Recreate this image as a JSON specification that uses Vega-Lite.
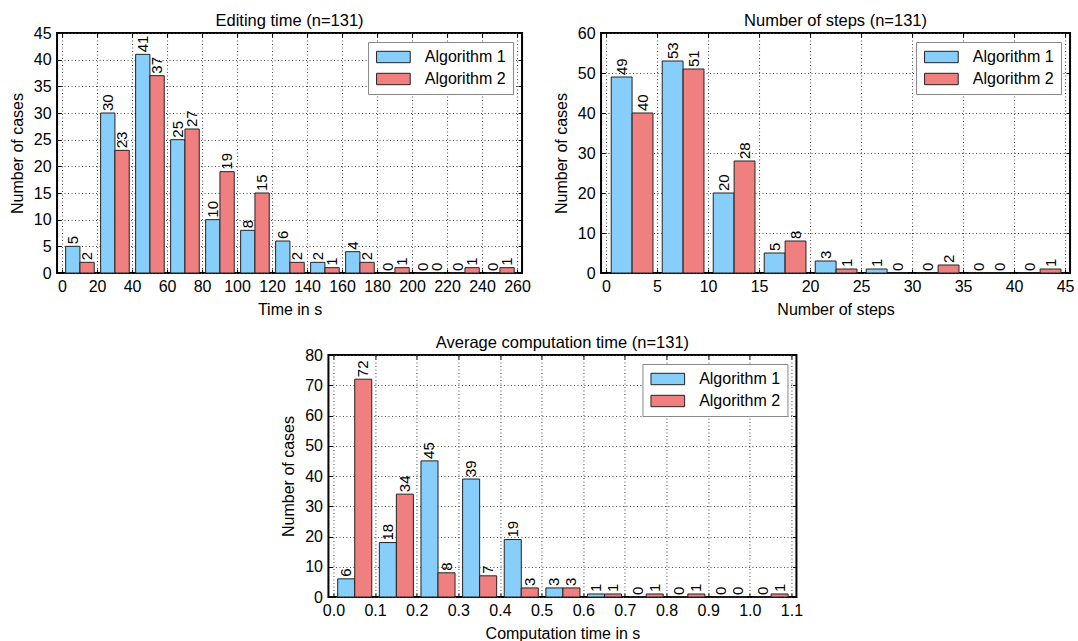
{
  "$schema": "https://vega.github.io/schema/vega-lite/v6.json",
  "background": "white",
  "padding": {"left": 8, "top": 11, "right": 0, "bottom": 0},
  "datasets": {
    "editing": [
      {"bin": 0, "algorithm": "Algorithm 1", "cases": 5}, {"bin": 0, "algorithm": "Algorithm 2", "cases": 2},
      {"bin": 20, "algorithm": "Algorithm 1", "cases": 30}, {"bin": 20, "algorithm": "Algorithm 2", "cases": 23},
      {"bin": 40, "algorithm": "Algorithm 1", "cases": 41}, {"bin": 40, "algorithm": "Algorithm 2", "cases": 37},
      {"bin": 60, "algorithm": "Algorithm 1", "cases": 25}, {"bin": 60, "algorithm": "Algorithm 2", "cases": 27},
      {"bin": 80, "algorithm": "Algorithm 1", "cases": 10}, {"bin": 80, "algorithm": "Algorithm 2", "cases": 19},
      {"bin": 100, "algorithm": "Algorithm 1", "cases": 8}, {"bin": 100, "algorithm": "Algorithm 2", "cases": 15},
      {"bin": 120, "algorithm": "Algorithm 1", "cases": 6}, {"bin": 120, "algorithm": "Algorithm 2", "cases": 2},
      {"bin": 140, "algorithm": "Algorithm 1", "cases": 2}, {"bin": 140, "algorithm": "Algorithm 2", "cases": 1},
      {"bin": 160, "algorithm": "Algorithm 1", "cases": 4}, {"bin": 160, "algorithm": "Algorithm 2", "cases": 2},
      {"bin": 180, "algorithm": "Algorithm 1", "cases": 0}, {"bin": 180, "algorithm": "Algorithm 2", "cases": 1},
      {"bin": 200, "algorithm": "Algorithm 1", "cases": 0}, {"bin": 200, "algorithm": "Algorithm 2", "cases": 0},
      {"bin": 220, "algorithm": "Algorithm 1", "cases": 0}, {"bin": 220, "algorithm": "Algorithm 2", "cases": 1},
      {"bin": 240, "algorithm": "Algorithm 1", "cases": 0}, {"bin": 240, "algorithm": "Algorithm 2", "cases": 1}
    ],
    "steps": [
      {"bin": 0, "algorithm": "Algorithm 1", "cases": 49}, {"bin": 0, "algorithm": "Algorithm 2", "cases": 40},
      {"bin": 5, "algorithm": "Algorithm 1", "cases": 53}, {"bin": 5, "algorithm": "Algorithm 2", "cases": 51},
      {"bin": 10, "algorithm": "Algorithm 1", "cases": 20}, {"bin": 10, "algorithm": "Algorithm 2", "cases": 28},
      {"bin": 15, "algorithm": "Algorithm 1", "cases": 5}, {"bin": 15, "algorithm": "Algorithm 2", "cases": 8},
      {"bin": 20, "algorithm": "Algorithm 1", "cases": 3}, {"bin": 20, "algorithm": "Algorithm 2", "cases": 1},
      {"bin": 25, "algorithm": "Algorithm 1", "cases": 1}, {"bin": 25, "algorithm": "Algorithm 2", "cases": 0},
      {"bin": 30, "algorithm": "Algorithm 1", "cases": 0}, {"bin": 30, "algorithm": "Algorithm 2", "cases": 2},
      {"bin": 35, "algorithm": "Algorithm 1", "cases": 0}, {"bin": 35, "algorithm": "Algorithm 2", "cases": 0},
      {"bin": 40, "algorithm": "Algorithm 1", "cases": 0}, {"bin": 40, "algorithm": "Algorithm 2", "cases": 1}
    ],
    "comp": [
      {"bin": 0.0, "algorithm": "Algorithm 1", "cases": 6}, {"bin": 0.0, "algorithm": "Algorithm 2", "cases": 72},
      {"bin": 0.1, "algorithm": "Algorithm 1", "cases": 18}, {"bin": 0.1, "algorithm": "Algorithm 2", "cases": 34},
      {"bin": 0.2, "algorithm": "Algorithm 1", "cases": 45}, {"bin": 0.2, "algorithm": "Algorithm 2", "cases": 8},
      {"bin": 0.3, "algorithm": "Algorithm 1", "cases": 39}, {"bin": 0.3, "algorithm": "Algorithm 2", "cases": 7},
      {"bin": 0.4, "algorithm": "Algorithm 1", "cases": 19}, {"bin": 0.4, "algorithm": "Algorithm 2", "cases": 3},
      {"bin": 0.5, "algorithm": "Algorithm 1", "cases": 3}, {"bin": 0.5, "algorithm": "Algorithm 2", "cases": 3},
      {"bin": 0.6, "algorithm": "Algorithm 1", "cases": 1}, {"bin": 0.6, "algorithm": "Algorithm 2", "cases": 1},
      {"bin": 0.7, "algorithm": "Algorithm 1", "cases": 0}, {"bin": 0.7, "algorithm": "Algorithm 2", "cases": 1},
      {"bin": 0.8, "algorithm": "Algorithm 1", "cases": 0}, {"bin": 0.8, "algorithm": "Algorithm 2", "cases": 1},
      {"bin": 0.9, "algorithm": "Algorithm 1", "cases": 0}, {"bin": 0.9, "algorithm": "Algorithm 2", "cases": 0},
      {"bin": 1.0, "algorithm": "Algorithm 1", "cases": 0}, {"bin": 1.0, "algorithm": "Algorithm 2", "cases": 1}
    ]
  },
  "vconcat": [
    {
      "hconcat": [
        {
          "title": "Editing time (n=131)",
          "width": 465, "height": 240,
          "data": {"name": "editing"},
          "layer": [
            {
              "transform": [{"filter": "datum.algorithm === 'Algorithm 1'"}],
              "mark": {"type": "bar", "width": 14.3, "xOffset": 10.73, "stroke": "#222", "strokeWidth": 1},
              "encoding": {
                "x": {"field": "bin", "type": "quantitative", "title": "Time in s", "scale": {"domain": [0, 260], "nice": false}, "axis": {"orient": "bottom", "values": [0,20,40,60,80,100,120,140,160,180,200,220,240,260]}},
                "y": {"field": "cases", "type": "quantitative", "title": "Number of cases", "scale": {"domain": [0, 45], "nice": false}, "axis": {"orient": "left", "values": [0,5,10,15,20,25,30,35,40,45]}},
                "color": {"field": "algorithm", "type": "nominal", "scale": {"domain": ["Algorithm 1", "Algorithm 2"], "range": ["#87CEFA", "#F08080"]}, "legend": {"title": null}}
              }
            },
            {
              "transform": [{"filter": "datum.algorithm === 'Algorithm 2'"}],
              "mark": {"type": "bar", "width": 14.3, "xOffset": 25.04, "stroke": "#222", "strokeWidth": 1},
              "encoding": {
                "x": {"field": "bin", "type": "quantitative", "axis": null},
                "y": {"field": "cases", "type": "quantitative", "axis": null},
                "color": {"field": "algorithm", "type": "nominal"}
              }
            },
            {
              "transform": [{"filter": "datum.algorithm === 'Algorithm 1'"}],
              "mark": {"type": "text", "angle": 270, "align": "left", "baseline": "middle", "dx": 2, "xOffset": 10.73, "fontSize": 15, "color": "black"},
              "encoding": {
                "x": {"field": "bin", "type": "quantitative", "axis": {"orient": "top", "values": [0,20,40,60,80,100,120,140,160,180,200,220,240,260], "labels": false, "grid": false, "title": null, "labelPadding": 0}},
                "y": {"field": "cases", "type": "quantitative", "axis": {"orient": "right", "values": [0,5,10,15,20,25,30,35,40,45], "labels": false, "grid": false, "title": null, "labelPadding": 0}},
                "text": {"field": "cases", "type": "quantitative"}
              }
            },
            {
              "transform": [{"filter": "datum.algorithm === 'Algorithm 2'"}],
              "mark": {"type": "text", "angle": 270, "align": "left", "baseline": "middle", "dx": 2, "xOffset": 25.04, "fontSize": 15, "color": "black"},
              "encoding": {
                "x": {"field": "bin", "type": "quantitative", "axis": null},
                "y": {"field": "cases", "type": "quantitative", "axis": null},
                "text": {"field": "cases", "type": "quantitative"}
              }
            }
          ]
        },
        {
          "title": "Number of steps (n=131)",
          "width": 469, "height": 240,
          "data": {"name": "steps"},
          "layer": [
            {
              "transform": [{"filter": "datum.algorithm === 'Algorithm 1'"}],
              "mark": {"type": "bar", "width": 20.85, "xOffset": 15.6, "stroke": "#222", "strokeWidth": 1},
              "encoding": {
                "x": {"field": "bin", "type": "quantitative", "title": "Number of steps", "scale": {"domain": [0, 45], "nice": false}, "axis": {"orient": "bottom", "values": [0,5,10,15,20,25,30,35,40,45]}},
                "y": {"field": "cases", "type": "quantitative", "title": "Number of cases", "scale": {"domain": [0, 60], "nice": false}, "axis": {"orient": "left", "values": [0,10,20,30,40,50,60]}},
                "color": {"field": "algorithm", "type": "nominal", "scale": {"domain": ["Algorithm 1", "Algorithm 2"], "range": ["#87CEFA", "#F08080"]}, "legend": {"title": null}}
              }
            },
            {
              "transform": [{"filter": "datum.algorithm === 'Algorithm 2'"}],
              "mark": {"type": "bar", "width": 20.85, "xOffset": 36.5, "stroke": "#222", "strokeWidth": 1},
              "encoding": {
                "x": {"field": "bin", "type": "quantitative", "axis": null},
                "y": {"field": "cases", "type": "quantitative", "axis": null},
                "color": {"field": "algorithm", "type": "nominal"}
              }
            },
            {
              "transform": [{"filter": "datum.algorithm === 'Algorithm 1'"}],
              "mark": {"type": "text", "angle": 270, "align": "left", "baseline": "middle", "dx": 2, "xOffset": 15.6, "fontSize": 15, "color": "black"},
              "encoding": {
                "x": {"field": "bin", "type": "quantitative", "axis": {"orient": "top", "values": [0,5,10,15,20,25,30,35,40,45], "labels": false, "grid": false, "title": null, "labelPadding": 0}},
                "y": {"field": "cases", "type": "quantitative", "axis": {"orient": "right", "values": [0,10,20,30,40,50,60], "labels": false, "grid": false, "title": null, "labelPadding": 0}},
                "text": {"field": "cases", "type": "quantitative"}
              }
            },
            {
              "transform": [{"filter": "datum.algorithm === 'Algorithm 2'"}],
              "mark": {"type": "text", "angle": 270, "align": "left", "baseline": "middle", "dx": 2, "xOffset": 36.5, "fontSize": 15, "color": "black"},
              "encoding": {
                "x": {"field": "bin", "type": "quantitative", "axis": null},
                "y": {"field": "cases", "type": "quantitative", "axis": null},
                "text": {"field": "cases", "type": "quantitative"}
              }
            }
          ]
        }
      ],
      "spacing": 20,
      "resolve": {"scale": {"color": "independent"}, "legend": {"color": "independent"}}
    },
    {
      "title": "Average computation time (n=131)",
      "width": 468, "height": 242,
      "data": {"name": "comp"},
      "layer": [
        {
          "transform": [{"filter": "datum.algorithm === 'Algorithm 1'"}],
          "mark": {"type": "bar", "width": 17.04, "xOffset": 12.78, "stroke": "#222", "strokeWidth": 1},
          "encoding": {
            "x": {"field": "bin", "type": "quantitative", "title": "Computation time in s", "scale": {"domain": [0, 1.1], "nice": false}, "axis": {"orient": "bottom", "values": [0,0.1,0.2,0.3,0.4,0.5,0.6,0.7,0.8,0.9,1.0,1.1], "format": ".1f"}},
            "y": {"field": "cases", "type": "quantitative", "title": "Number of cases", "scale": {"domain": [0, 80], "nice": false}, "axis": {"orient": "left", "values": [0,10,20,30,40,50,60,70,80]}},
            "color": {"field": "algorithm", "type": "nominal", "scale": {"domain": ["Algorithm 1", "Algorithm 2"], "range": ["#87CEFA", "#F08080"]}, "legend": {"title": null}}
          }
        },
        {
          "transform": [{"filter": "datum.algorithm === 'Algorithm 2'"}],
          "mark": {"type": "bar", "width": 17.04, "xOffset": 29.8, "stroke": "#222", "strokeWidth": 1},
          "encoding": {
            "x": {"field": "bin", "type": "quantitative", "axis": null},
            "y": {"field": "cases", "type": "quantitative", "axis": null},
            "color": {"field": "algorithm", "type": "nominal"}
          }
        },
        {
          "transform": [{"filter": "datum.algorithm === 'Algorithm 1'"}],
          "mark": {"type": "text", "angle": 270, "align": "left", "baseline": "middle", "dx": 2, "xOffset": 12.78, "fontSize": 15, "color": "black"},
          "encoding": {
            "x": {"field": "bin", "type": "quantitative", "axis": {"orient": "top", "values": [0,0.1,0.2,0.3,0.4,0.5,0.6,0.7,0.8,0.9,1.0,1.1], "labels": false, "grid": false, "title": null, "labelPadding": 0}},
            "y": {"field": "cases", "type": "quantitative", "axis": {"orient": "right", "values": [0,10,20,30,40,50,60,70,80], "labels": false, "grid": false, "title": null, "labelPadding": 0}},
            "text": {"field": "cases", "type": "quantitative"}
          }
        },
        {
          "transform": [{"filter": "datum.algorithm === 'Algorithm 2'"}],
          "mark": {"type": "text", "angle": 270, "align": "left", "baseline": "middle", "dx": 2, "xOffset": 29.8, "fontSize": 15, "color": "black"},
          "encoding": {
            "x": {"field": "bin", "type": "quantitative", "axis": null},
            "y": {"field": "cases", "type": "quantitative", "axis": null},
            "text": {"field": "cases", "type": "quantitative"}
          }
        }
      ]
    }
  ],
  "spacing": 15,
  "center": true,
  "resolve": {"scale": {"color": "independent"}, "legend": {"color": "independent"}},
  "config": {
    "font": "Liberation Sans",
    "view": {"stroke": "black", "strokeWidth": 2},
    "title": {"fontSize": 16.5, "fontWeight": "normal", "color": "black", "offset": -4},
    "axis": {
      "domain": false,
      "labelFontSize": 16,
      "labelColor": "black",
      "titleFontSize": 16,
      "titleFontWeight": "normal",
      "titleColor": "black",
      "tickColor": "black",
      "tickSize": -4,
      "tickWidth": 1,
      "labelPadding": 8,
      "gridColor": "#444",
      "gridDash": [1, 2.5],
      "gridOpacity": 1,
      "gridWidth": 1
    },
    "axisX": {"titlePadding": 7, "labelPadding": 9},
    "axisY": {"titlePadding": 8, "labelPadding": 10},
    "legend": {
      "orient": "top-right",
      "offset": 9,
      "strokeColor": "#888",
      "fillColor": "white",
      "padding": 7,
      "labelFontSize": 16,
      "labelColor": "black",
      "symbolType": "M-1.08,-0.95H4.53V0.95H-1.08Z",
      "symbolSize": 144,
      "symbolStrokeColor": "#222",
      "symbolStrokeWidth": 1,
      "symbolOpacity": 1,
      "labelOffset": 33.7,
      "rowPadding": 6
    }
  }
}
